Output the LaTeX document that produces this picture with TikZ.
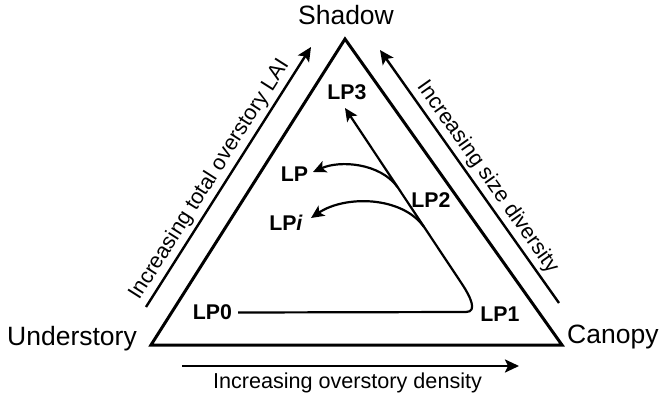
\documentclass[tikz,border=0pt]{standalone}
\usepackage{fontspec}
\setmainfont{Liberation Sans}
\usetikzlibrary{arrows.meta}
\begin{document}
\begin{tikzpicture}[x=1pt,y=-1pt,
  corner/.style={font=\fontsize{26.5}{30}\selectfont, inner sep=0pt},
  axislabel/.style={font=\fontsize{21.6}{24}\selectfont},
  lplabel/.style={font=\fontsize{21.3}{24}\selectfont\bfseries, inner sep=6pt},
  edge/.style={line width=3pt, line join=miter},
  axisarrow/.style={line width=2.4pt, -{Stealth[length=14pt,width=13pt,inset=3pt]}},
  lpline/.style={line width=2.2pt},
  lparrow/.style={lpline, -{Stealth[length=13pt,width=12pt,inset=3pt]}}]
\useasboundingbox (0,0) rectangle (659,396);

% corners of the triangle
\coordinate (top) at (345,39);
\coordinate (bl)  at (151,345);
\coordinate (br)  at (562,345);
\draw[edge] (top) -- (bl) -- (br) -- cycle;

% corner names
\node[corner, anchor=base] (shadow) at (346,25) {Shadow};
\node[corner, anchor=base west] (under) at (7,345) {Understory};
\node[corner, anchor=base west] (canopy) at (567,343) {Canopy};

% gradient arrows along the sides
\coordinate (la0) at (146,307);
\coordinate (la1) at (311,47);
\coordinate (ra0) at (559,303);
\coordinate (ra1) at (380,50);
\coordinate (ba0) at (182,366);
\coordinate (ba1) at (519,366);
\draw[axisarrow] (la0) -- (la1)
  node[axislabel, pos=0.46, sloped, above, inner sep=3pt] {Increasing total overstory LAI};
\draw[axisarrow] (ra0) -- (ra1)
  node[axislabel, pos=0.465, sloped, above, inner sep=3pt] {Increasing size diversity};
\draw[axisarrow] (ba0) -- (ba1);
\node[axislabel, anchor=base, inner sep=0pt] (density) at (347.5,388) {Increasing overstory density};

% light-pattern labels
\node[lplabel] (lp0) at (212.5,312.5) {LP0};
\node[lplabel] (lp1) at (500,314) {LP1};
\node[lplabel] (lp2) at (431,200) {LP2};
\node[lplabel] (lp3) at (347,92) {LP3};
\node[lplabel] (lp)  at (294.5,174) {LP};
\node[lplabel] (lpi) at (286,223) {LP\textit{i}};

% trajectory and its branches
\coordinate (t3) at (345,108);
\coordinate (tl) at (313,172);
\coordinate (ti) at (311,218);
\coordinate (b1) at (397.5,187);
\coordinate (b2) at (424,227);
\draw[lparrow] (lp0.east) -- (466,312) .. controls (478,312) and (470,296) .. (462,284) -- (t3);
\draw[lparrow] (b1) .. controls (380,163) and (340,160) .. (tl);
\draw[lparrow] (b2) .. controls (402,196) and (345,195) .. (ti);
\end{tikzpicture}
\end{document}
